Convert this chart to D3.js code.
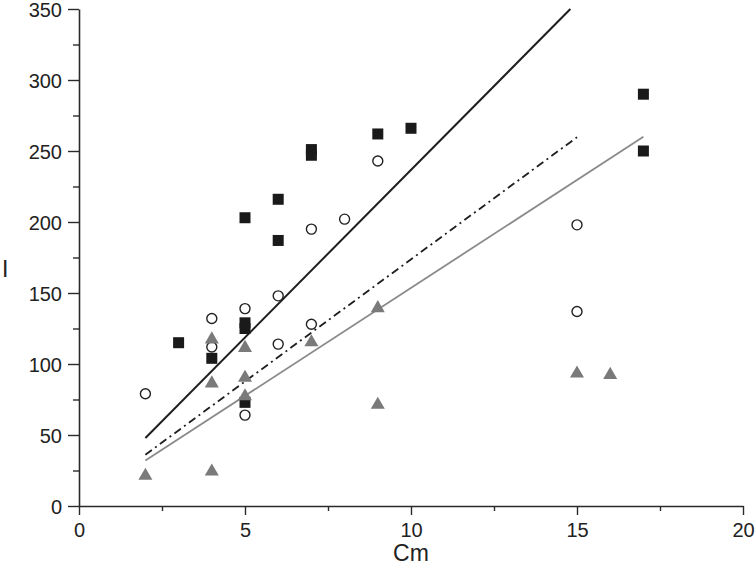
<!DOCTYPE html>
<html>
<head>
<meta charset="utf-8">
<script src="https://cdn.jsdelivr.net/npm/d3@7"></script>
<style>
  body { margin: 0; background: #fff; }
  text { font-family: "Liberation Sans", Arial, sans-serif; fill: #222; }
</style>
</head>
<body>
<script>
// data
var squaresX = [3, 4, 5, 5, 5, 5, 6, 6, 7, 7, 9, 10, 17, 17];
var squaresY = [115, 104, 203, 129, 125, 73, 216, 187, 251, 247, 262, 266, 290, 250];

var circlesX = [2, 4, 4, 5, 5, 6, 6, 7, 7, 8, 9, 15, 15];
var circlesY = [79, 132, 112, 139, 64, 148, 114, 195, 128, 202, 243, 198, 137];

var trianglesX = [2, 4, 4, 4, 5, 5, 5, 7, 9, 9, 15, 16];
var trianglesY = [22, 25, 118, 87, 112, 91, 78, 116, 140, 72, 94, 93];

// fitted lines: [slope, intercept, xStart, xEnd]
var fitSolid = [23.6, 0.7, 2, 14.8];
var fitDashDot = [17.2, 1.7, 2, 15];
var fitGray = [15.2, 1.6, 2, 17];

var xTicks = [0, 5, 10, 15, 20];
var yTicks = [0, 50, 100, 150, 200, 250, 300, 350];

var width = 756,
    height = 579;

var margin = { left: 79, right: 13, top: 9, bottom: 73 };

var svg = d3.select('body').append('svg')
    .attr('width', width)
    .attr('height', height);

var x = d3.scaleLinear()
    .domain([0, 20])
    .range([margin.left, width - margin.right]);

var y = d3.scaleLinear()
    .domain([0, 350])
    .range([height - margin.bottom, margin.top]);

var axisColor = '#2a2a2a';

// minor ticks first, then major axes on top
var xMinor = svg.append('g')
    .attr('transform', 'translate(0,' + y(0) + ')')
    .call(d3.axisBottom(x).tickValues([2.5, 7.5, 12.5, 17.5]).tickSize(5).tickFormat(''));
xMinor.select('.domain').remove();

var yMinor = svg.append('g')
    .attr('transform', 'translate(' + x(0) + ',0)')
    .call(d3.axisLeft(y).tickValues([25, 75, 125, 175, 225, 275, 325]).tickSize(6).tickFormat(''));
yMinor.select('.domain').remove();

var xAxis = svg.append('g')
    .attr('transform', 'translate(0,' + y(0) + ')')
    .call(d3.axisBottom(x).tickValues(xTicks).tickSize(9).tickSizeOuter(0).tickPadding(8));

var yAxis = svg.append('g')
    .attr('transform', 'translate(' + x(0) + ',0)')
    .call(d3.axisLeft(y).tickValues(yTicks).tickSize(11).tickSizeOuter(0).tickPadding(6));

svg.selectAll('.domain').attr('stroke', axisColor).attr('stroke-width', 1.6);
svg.selectAll('.tick line').attr('stroke', axisColor).attr('stroke-width', 1.4);
svg.selectAll('.tick text')
    .style('font-size', '20px')
    .style('font-family', '"Liberation Sans", Arial, sans-serif')
    .attr('fill', '#222');

yAxis.selectAll('.tick text').attr('dy', '0.35em');

svg.append('text')
    .attr('x', x(10) + 0)
    .attr('y', 561)
    .attr('text-anchor', 'middle')
    .style('font-size', '23px')
    .text('Cm');

svg.append('text')
    .attr('x', 2)
    .attr('y', 277)
    .style('font-size', '23px')
    .text('I');

// fit lines
function fitLine(f) {
    return [[f[2], f[0] * f[2] + f[1]], [f[3], f[0] * f[3] + f[1]]];
}

var line = d3.line()
    .x(function(d) { return x(d[0]); })
    .y(function(d) { return y(d[1]); });

svg.append('path')
    .datum(fitLine(fitGray))
    .attr('d', line)
    .attr('fill', 'none')
    .attr('stroke', '#8a8a8a')
    .attr('stroke-width', 1.8);

svg.append('path')
    .datum(fitLine(fitDashDot))
    .attr('d', line)
    .attr('fill', 'none')
    .attr('stroke', '#1e1e1e')
    .attr('stroke-width', 1.8)
    .attr('stroke-dasharray', '8,4,2,4');

svg.append('path')
    .datum(fitLine(fitSolid))
    .attr('d', line)
    .attr('fill', 'none')
    .attr('stroke', '#1e1e1e')
    .attr('stroke-width', 2);

// markers
var squares = d3.zip(squaresX, squaresY),
    circles = d3.zip(circlesX, circlesY),
    triangles = d3.zip(trianglesX, trianglesY);

svg.append('g').selectAll('rect')
    .data(squares)
    .enter().append('rect')
        .attr('x', function(d) { return x(d[0]) - 5.5; })
        .attr('y', function(d) { return y(d[1]) - 5.5; })
        .attr('width', 11)
        .attr('height', 11)
        .attr('fill', '#1a1a1a');

svg.append('g').selectAll('circle')
    .data(circles)
    .enter().append('circle')
        .attr('cx', function(d) { return x(d[0]); })
        .attr('cy', function(d) { return y(d[1]); })
        .attr('r', 5)
        .attr('fill', '#fff')
        .attr('stroke', '#222')
        .attr('stroke-width', 1.4);

var tri = d3.symbol().type(d3.symbolTriangle).size(85);

svg.append('g').selectAll('path')
    .data(triangles)
    .enter().append('path')
        .attr('d', tri)
        .attr('transform', function(d) {
            return 'translate(' + x(d[0]) + ',' + (y(d[1]) + 1) + ')';
        })
        .attr('fill', '#7a7a7a');
</script>
</body>
</html>
